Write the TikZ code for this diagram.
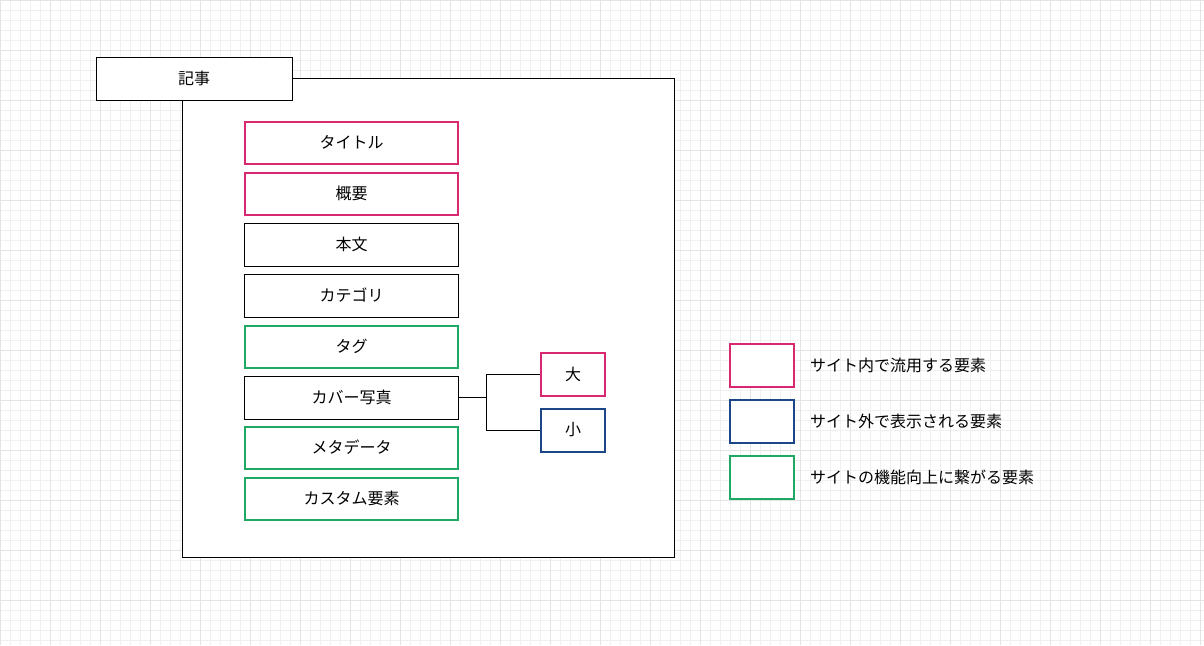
\documentclass[tikz,border=0pt]{standalone}
\usepackage{fontspec}
\setmainfont{Noto Sans CJK JP}
\definecolor{pk}{HTML}{D8286F}
\definecolor{bl}{HTML}{1C4686}
\definecolor{gr}{HTML}{1EA864}
\definecolor{gmin}{HTML}{F0F0F0}
\definecolor{gmaj}{HTML}{E4E4E4}
\begin{document}
\begin{tikzpicture}[x=1pt,y=-1pt,
  fnt/.style={font=\fontsize{16}{18}\selectfont},
  box/.style={draw=#1,line width=2pt,minimum width=213pt,minimum height=42pt,inner sep=0pt,fill=white,fnt},
  bbox/.style={draw=black,line width=1pt,minimum width=214pt,minimum height=43pt,inner sep=0pt,fill=white,fnt},
  sm/.style={draw=#1,line width=2pt,minimum width=64pt,minimum height=43pt,inner sep=0pt,fill=white,fnt},
  lg/.style={anchor=west,fnt},
  ln/.style={line width=1pt,black}]
\fill[white] (0,0) rectangle (1204,645);
\useasboundingbox (0,0) rectangle (1204,645);
\foreach \x in {0,10,...,1200} \draw[gmin,line width=0.5pt] (\x,0)--(\x,645);
\foreach \y in {0,10,...,640} \draw[gmin,line width=0.5pt] (0,\y)--(1204,\y);
\foreach \x in {0,50,...,1200} \draw[gmaj,line width=0.6pt] (\x,0)--(\x,645);
\foreach \y in {0,50,...,640} \draw[gmaj,line width=0.6pt] (0,\y)--(1204,\y);
\node[draw,line width=1pt,fill=white,minimum width=492pt,minimum height=479pt,anchor=north west] (outer) at (182,78) {};
\node[draw,line width=1pt,fill=white,minimum width=196pt,minimum height=43pt,inner sep=0pt,fnt] (kiji) at (194,78.5) {記事};
\node[box=pk] (t1) at (351.5,142.5) {タイトル};
\node[box=pk] (t2) at (351.5,193.5) {概要};
\node[bbox] (t3) at (351.5,244.5) {本文};
\node[bbox] (t4) at (351.5,295.5) {カテゴリ};
\node[box=gr] (t5) at (351.5,346.5) {タグ};
\node[bbox] (t6) at (351.5,397.5) {カバー写真};
\node[box=gr] (t7) at (351.5,447.5) {メタデータ};
\node[box=gr] (t8) at (351.5,498.5) {カスタム要素};
\node[sm=pk] (big) at (573,374.5) {大};
\node[sm=bl] (small) at (573,430) {小};
\coordinate (j) at (486,397.5);
\draw[ln] (t6.east)--(j);
\draw[ln] (j)|-(big.west);
\draw[ln] (j)|-(small.west);
\node[sm=pk] (l1) at (762,365.5) {};
\node[sm=bl] (l2) at (762,421.5) {};
\node[sm=gr] (l3) at (762,477.5) {};
\node[lg,inner sep=0pt] (lt1) at (810,365.5) {サイト内で流用する要素};
\node[lg,inner sep=0pt] (lt2) at (810,421.5) {サイト外で表示される要素};
\node[lg,inner sep=0pt] (lt3) at (810,477.5) {サイトの機能向上に繋がる要素};
\end{tikzpicture}
\end{document}
